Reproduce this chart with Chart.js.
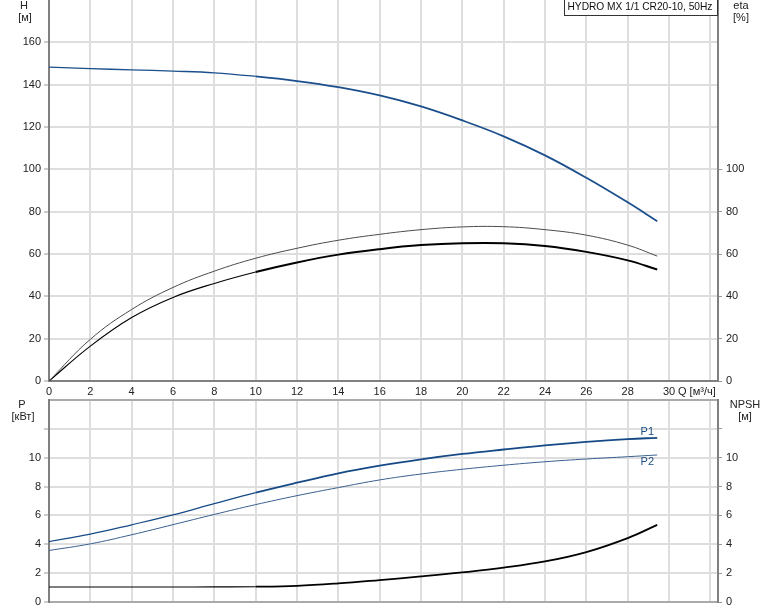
<!DOCTYPE html>
<html>
<head>
<meta charset="utf-8">
<script src="https://cdn.jsdelivr.net/npm/chart.js@4.4.1/dist/chart.umd.min.js"></script>
<style>
  body { margin: 0; background: #fff; }
  #wrap { position: relative; width: 774px; height: 611px; }
  canvas { position: absolute; left: 0; }
  #topChart { top: 0; }
  #botChart { top: 399px; }
</style>
</head>
<body>
<div id="wrap">
  <canvas id="topChart" width="774" height="400"></canvas>
  <canvas id="botChart" width="774" height="212"></canvas>
</div>
<script>
// Q [m3/h]
const flow     = [0, 2, 4, 6, 8, 10, 12, 14, 16, 18, 20, 22, 24, 26, 28, 29.43];
// H [m]
const head     = [148.3, 147.6, 147.0, 146.4, 145.6, 143.9, 141.7, 138.8, 134.9, 129.7, 123.1, 115.6, 106.6, 96.0, 84.4, 75.5];
// eta [%]
const etaPump  = [0, 19.7, 33.8, 44.2, 51.9, 58.0, 62.7, 66.5, 69.3, 71.5, 72.8, 72.9, 71.5, 68.9, 64.2, 59.0];
const etaTotal = [0, 16.5, 30.0, 39.5, 46.1, 51.5, 56.0, 59.7, 62.3, 64.2, 65.1, 65.1, 63.8, 61.0, 57.0, 52.7];
// P [kW]
const powerP1  = [4.19, 4.70, 5.35, 6.04, 6.82, 7.58, 8.27, 8.92, 9.45, 9.89, 10.26, 10.57, 10.86, 11.10, 11.29, 11.38];
const powerP2  = [3.57, 4.03, 4.66, 5.36, 6.07, 6.75, 7.37, 7.93, 8.46, 8.87, 9.20, 9.48, 9.72, 9.91, 10.07, 10.19];
// NPSH [m]
const npsh     = [1.04, 1.04, 1.04, 1.04, 1.05, 1.06, 1.12, 1.29, 1.52, 1.77, 2.05, 2.38, 2.81, 3.46, 4.43, 5.35];

const qTicks   = [0, 2, 4, 6, 8, 10, 12, 14, 16, 18, 20, 22, 24, 26, 28, 30, 32];
const hTicks   = [0, 20, 40, 60, 80, 100, 120, 140, 160];
const etaTicks = [0, 20, 40, 60, 80, 100];
const pTicks   = [0, 2, 4, 6, 8, 10, 12];

const Q_MAX = 32.37;
const FONT = '"Liberation Sans", Arial, sans-serif';
const GRID = '#dedede';
const AXIS = '#808080';

const pts = (ys) => flow.map((q, i) => ({ x: q, y: ys[i] }));
const thickAfter = (q, thin, thick) => (ctx) => ctx.p0.parsed.x >= q ? thick : thin;

function fixed(prop, value) {
  return (scale) => {
    scale[prop] = value;
    scale.paddingTop = 0; scale.paddingBottom = 0;
    scale.paddingLeft = 0; scale.paddingRight = 0;
  };
}
const setTicks = (list) => (scale) => { scale.ticks = list.map(v => ({ value: v })); };

function line(data, color, width, yAxisID, seg) {
  const ds = {
    data: pts(data), yAxisID, borderColor: color, borderWidth: width,
    pointRadius: 0, fill: false, tension: 0.4
  };
  if (seg) ds.segment = { borderWidth: seg };
  return ds;
}

const tickFont = { family: FONT, size: 11 };

function textPlugin(items) {
  return {
    id: 'texts',
    afterDraw(chart) {
      const c = chart.ctx;
      c.save();
      items(chart).forEach(t => {
        c.font = (t.size || 11) + 'px ' + FONT;
        c.fillStyle = t.color || '#222';
        c.textAlign = t.align || 'center';
        c.textBaseline = 'middle';
        if (t.box) {
          c.fillStyle = '#fff';
          c.fillRect(t.box[0], t.box[1], t.box[2], t.box[3]);
          c.strokeStyle = '#333';
          c.lineWidth = 1;
          c.strokeRect(t.box[0] + 0.5, t.box[1] + 0.5, t.box[2], t.box[3]);
          c.fillStyle = t.color || '#111';
        }
        c.fillText(t.text, t.x, t.y);
      });
      c.restore();
    }
  };
}

// upper panel: H and eta
new Chart(document.getElementById('topChart'), {
  type: 'line',
  data: {
    datasets: [
      line(head, '#1b4f8c', 1.5, 'y', thickAfter(10, 1.3, 1.8)),
      line(etaPump, '#4a4a4a', 1, 'y2'),
      line(etaTotal, '#000', 1.5, 'y2', thickAfter(10, 1.1, 2))
    ]
  },
  options: {
    responsive: false,
    animation: false,
    layout: { padding: 0 },
    plugins: { legend: { display: false }, tooltip: { enabled: false } },
    scales: {
      x: {
        type: 'linear', min: 0, max: Q_MAX,
        afterBuildTicks: setTicks(qTicks),
        afterFit: fixed('height', 19),
        grid: { color: GRID, lineWidth: 2, drawTicks: false },
        border: { color: AXIS, width: 2 },
        ticks: { font: tickFont, color: '#222', padding: 4, maxRotation: 0, autoSkip: false,
                 callback: v => (v <= 30 ? String(v) : '') }
      },
      y: {
        position: 'left', min: 0, max: 180,
        afterBuildTicks: setTicks(hTicks),
        afterFit: fixed('width', 49),
        grid: { color: GRID, lineWidth: 2, tickLength: 5, tickColor: '#999', tickWidth: 1 },
        border: { color: AXIS, width: 2 },
        ticks: { font: tickFont, color: '#222', padding: 3 }
      },
      y2: {
        position: 'right', min: 0, max: 180,
        afterBuildTicks: setTicks(etaTicks),
        afterFit: fixed('width', 56),
        grid: { drawOnChartArea: false, tickLength: 4, tickColor: '#999', tickWidth: 1 },
        border: { color: AXIS, width: 2 },
        ticks: { font: tickFont, color: '#222', padding: 4 }
      }
    }
  },
  plugins: [textPlugin(() => [
    { text: 'H', x: 24, y: 6 },
    { text: '[м]', x: 25, y: 18 },
    { text: 'eta', x: 741, y: 6 },
    { text: '[%]', x: 741, y: 18 },
    { text: 'Q [м³/ч]', x: 678, y: 392, align: 'left' },
    { text: 'HYDRO MX 1/1 CR20-10, 50Hz', x: 567.5, y: 7.5, align: 'left', size: 10.2, box: [564, -1, 153, 16] }
  ])]
});

// lower panel: P and NPSH
new Chart(document.getElementById('botChart'), {
  type: 'line',
  data: {
    datasets: [
      line(powerP1, '#164a86', 1.5, 'y', thickAfter(10, 1.2, 1.8)),
      line(powerP2, '#3a5f8f', 1, 'y'),
      line(npsh, '#000', 1.5, 'y2', thickAfter(10, 1.1, 1.8))
    ]
  },
  options: {
    responsive: false,
    animation: false,
    layout: { padding: { top: 1 } },
    plugins: { legend: { display: false }, tooltip: { enabled: false } },
    scales: {
      x: {
        type: 'linear', min: 0, max: Q_MAX,
        afterBuildTicks: setTicks(qTicks),
        afterFit: fixed('height', 9),
        grid: { color: GRID, lineWidth: 2, drawTicks: false },
        border: { color: '#aaa', width: 2 },
        ticks: { display: false }
      },
      x2: {
        type: 'linear', position: 'top', min: 0, max: Q_MAX,
        afterFit: fixed('height', 0),
        grid: { drawOnChartArea: false, drawTicks: false },
        border: { color: '#aaa', width: 2 },
        ticks: { display: false }
      },
      y: {
        position: 'left', min: 0, max: 14,
        afterBuildTicks: setTicks(pTicks),
        afterFit: fixed('width', 49),
        grid: { color: GRID, lineWidth: 2, tickLength: 5, tickColor: '#999', tickWidth: 1 },
        border: { color: AXIS, width: 2 },
        ticks: { font: tickFont, color: '#222', padding: 3, callback: v => (v <= 10 ? String(v) : '') }
      },
      y2: {
        position: 'right', min: 0, max: 14,
        afterBuildTicks: setTicks(pTicks),
        afterFit: fixed('width', 56),
        grid: { drawOnChartArea: false, tickLength: 4, tickColor: '#999', tickWidth: 1 },
        border: { color: AXIS, width: 2 },
        ticks: { font: tickFont, color: '#222', padding: 4, callback: v => (v <= 10 ? String(v) : '') }
      }
    }
  },
  plugins: [textPlugin((chart) => {
    const xs = chart.scales.x, ys = chart.scales.y;
    const last = flow.length - 1;
    return [
      { text: 'P', x: 22, y: 6 },
      { text: '[кВт]', x: 23, y: 18 },
      { text: 'NPSH', x: 745, y: 6 },
      { text: '[м]', x: 745, y: 18 },
      { text: 'P1', x: xs.getPixelForValue(28.95), y: ys.getPixelForValue(powerP1[last]) - 6, color: '#1f4e80' },
      { text: 'P2', x: xs.getPixelForValue(28.95), y: ys.getPixelForValue(powerP2[last]) + 7, color: '#1f4e80' }
    ];
  })]
});
</script>
</body>
</html>
